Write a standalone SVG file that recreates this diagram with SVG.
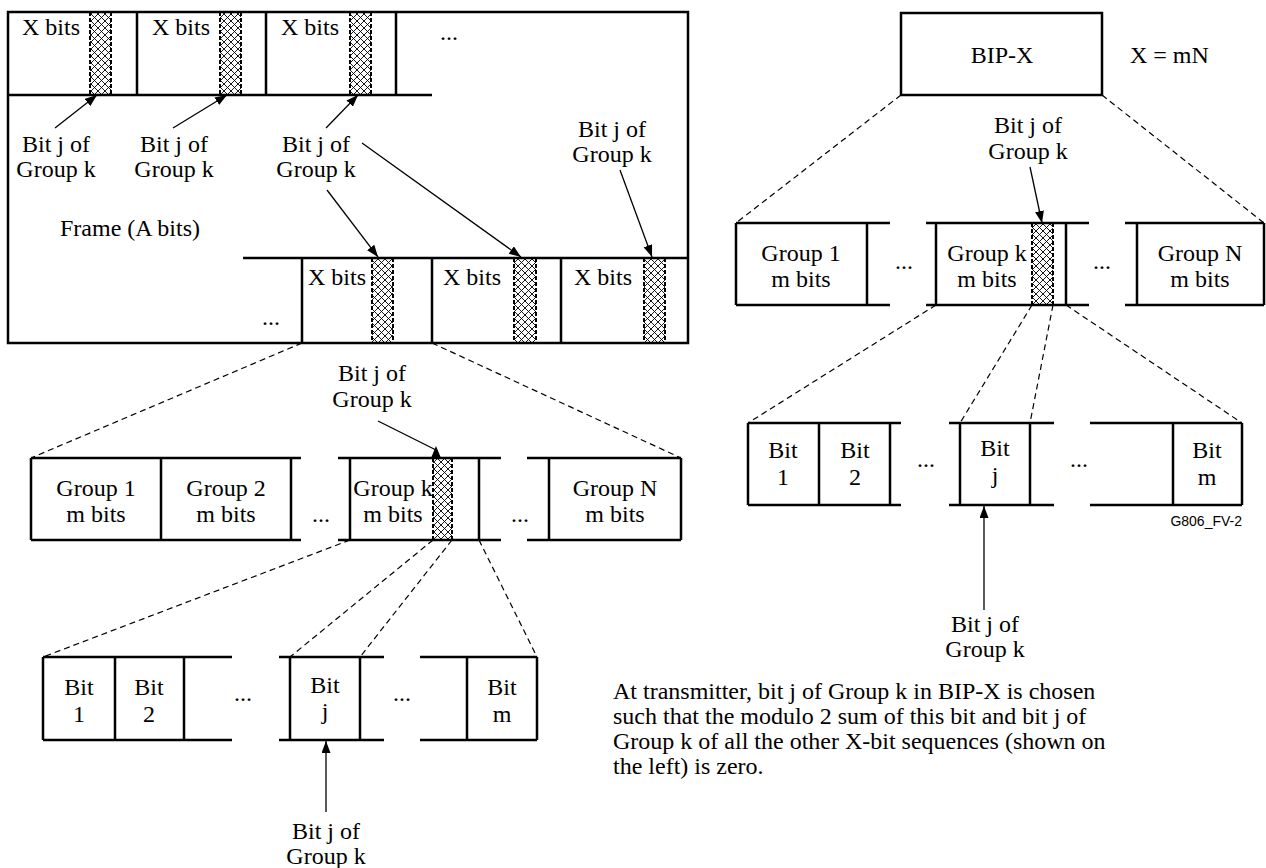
<svg xmlns="http://www.w3.org/2000/svg" width="1266" height="868" viewBox="0 0 1266 868">
<style>
.t{font-family:"Liberation Serif","Times New Roman",serif;font-size:24px;fill:#000}
.m{text-anchor:middle}
.s{font-family:"Liberation Sans",Arial,sans-serif;font-size:14px;fill:#000;text-anchor:end}
.ln{fill:none;stroke:#000;stroke-width:2.5}
.dash{fill:none;stroke:#000;stroke-width:1.2;stroke-dasharray:6 4}
.arr{fill:none;stroke:#000;stroke-width:1.3;marker-end:url(#ah)}
.thin{fill:none;stroke:#000;stroke-width:1.3}
.hx{fill:url(#xh)}
.hb{fill:none;stroke:#000;stroke-width:2;stroke-dasharray:4 2}
</style>
<defs>
<pattern id="xh" width="7" height="7" patternUnits="userSpaceOnUse">
<path d="M0,0 L7,7 M7,0 L0,7" stroke="#000" stroke-width="0.9" fill="none"/>
</pattern>
<marker id="ah" markerUnits="userSpaceOnUse" markerWidth="13" markerHeight="10" refX="12" refY="4.5" orient="auto">
<path d="M0,0 L12,4.5 L0,9 z" fill="#000"/>
</marker>
</defs>
<rect width="1266" height="868" fill="#fff"/>

<g id="frame">
<rect x="8" y="12" width="680" height="331" class="ln"/>
<text x="60" y="236" class="t">Frame (A bits)</text>
</g>

<g id="frame-top-row">
<path class="ln" d="M8,95 H432 M137,12 V95 M266,12 V95 M396,12 V95"/>
<rect x="90" y="12" width="21" height="83" class="hx"/><path class="hb" d="M90,12 V95 M111,12 V95"/>
<rect x="220" y="12" width="21" height="83" class="hx"/><path class="hb" d="M220,12 V95 M241,12 V95"/>
<rect x="350" y="12" width="21" height="83" class="hx"/><path class="hb" d="M350,12 V95 M371,12 V95"/>
<text x="22" y="35" class="t">X bits</text>
<text x="152" y="35" class="t">X bits</text>
<text x="281" y="35" class="t">X bits</text>
<text x="440" y="40" class="t">...</text>
</g>

<g id="frame-bottom-row">
<path class="ln" d="M243,258 H688 M302,258 V343 M432,258 V343 M561,258 V343"/>
<rect x="372" y="258" width="21" height="85" class="hx"/><path class="hb" d="M372,258 V343 M393,258 V343"/>
<rect x="514" y="258" width="22" height="85" class="hx"/><path class="hb" d="M514,258 V343 M536,258 V343"/>
<rect x="644" y="258" width="21" height="85" class="hx"/><path class="hb" d="M644,258 V343 M665,258 V343"/>
<text x="308" y="285" class="t">X bits</text>
<text x="443" y="285" class="t">X bits</text>
<text x="574" y="285" class="t">X bits</text>
<text x="262" y="325" class="t">...</text>
</g>

<g id="label-1"><text x="56" y="152" class="t m">Bit j of</text><text x="56" y="177" class="t m">Group k</text></g>
<g id="label-2"><text x="174" y="152" class="t m">Bit j of</text><text x="174" y="177" class="t m">Group k</text></g>
<g id="label-3"><text x="316" y="152" class="t m">Bit j of</text><text x="316" y="177" class="t m">Group k</text></g>
<g id="label-4"><text x="612" y="137" class="t m">Bit j of</text><text x="612" y="162" class="t m">Group k</text></g>

<g id="left-group-label"><text x="372" y="381" class="t m">Bit j of</text><text x="372" y="407" class="t m">Group k</text></g>

<g id="left-group-row">
<path class="ln" d="M31,458 V540 M31,458 H301 M31,540 H301 M161,458 V540 M291,458 V540 M338,458 H501 M338,540 H501 M350,458 V540 M479,458 V540 M527,458 H681 M527,540 H681 M549,458 V540 M681,458 V540"/>
<rect x="433" y="458" width="19" height="82" class="hx"/><path class="hb" d="M433,458 V540 M452,458 V540"/>
<text x="96" y="496" class="t m">Group 1</text><text x="96" y="522" class="t m">m bits</text>
<text x="226" y="496" class="t m">Group 2</text><text x="226" y="522" class="t m">m bits</text>
<text x="393" y="496" class="t m">Group k</text><text x="393" y="522" class="t m">m bits</text>
<text x="615" y="496" class="t m">Group N</text><text x="615" y="522" class="t m">m bits</text>
<text x="312" y="522" class="t">...</text>
<text x="511" y="522" class="t">...</text>
</g>

<g id="left-bit-row">
<path class="ln" d="M43,657 V740 M43,657 H232 M43,740 H232 M115,657 V740 M184,657 V740 M279,657 H384 M279,740 H384 M290,657 V740 M360,657 V740 M420,657 H537 M420,740 H537 M467,657 V740 M537,657 V740"/>
<text x="79" y="695" class="t m">Bit</text><text x="79" y="722" class="t m">1</text>
<text x="149" y="695" class="t m">Bit</text><text x="149" y="722" class="t m">2</text>
<text x="325" y="693" class="t m">Bit</text><text x="325" y="719" class="t m">j</text>
<text x="502" y="695" class="t m">Bit</text><text x="502" y="722" class="t m">m</text>
<text x="234" y="701" class="t">...</text>
<text x="393" y="701" class="t">...</text>
</g>

<g id="left-bottom-label"><text x="326" y="839" class="t m">Bit j of</text><text x="326" y="864" class="t m">Group k</text></g>

<g id="bip-x">
<rect x="901" y="13" width="201" height="82" class="ln"/>
<text x="1002" y="63" class="t m">BIP-X</text>
</g>
<g id="x-eq"><text x="1130" y="63" class="t">X = mN</text></g>

<g id="right-group-label"><text x="1028" y="133" class="t m">Bit j of</text><text x="1028" y="159" class="t m">Group k</text></g>

<g id="right-group-row">
<path class="ln" d="M736,223 V305 M736,223 H890 M736,305 H890 M867,223 V305 M926,223 H1089 M926,305 H1089 M936,223 V305 M1066,223 V305 M1125,223 H1264 M1125,305 H1264 M1137,223 V305 M1264,223 V305"/>
<rect x="1032" y="223" width="21" height="82" class="hx"/><path class="hb" d="M1032,223 V305 M1053,223 V305"/>
<text x="801" y="261" class="t m">Group 1</text><text x="801" y="287" class="t m">m bits</text>
<text x="987" y="261" class="t m">Group k</text><text x="987" y="287" class="t m">m bits</text>
<text x="1200" y="261" class="t m">Group N</text><text x="1200" y="287" class="t m">m bits</text>
<text x="895" y="269" class="t">...</text>
<text x="1093" y="269" class="t">...</text>
</g>

<g id="right-bit-row">
<path class="ln" d="M748,423 V505 M748,423 H901 M748,505 H901 M819,423 V505 M890,423 V505 M949,423 H1054 M949,505 H1054 M960,423 V505 M1030,423 V505 M1090,423 H1242 M1090,505 H1242 M1173,423 V505 M1242,423 V505"/>
<text x="783" y="458" class="t m">Bit</text><text x="783" y="485" class="t m">1</text>
<text x="855" y="458" class="t m">Bit</text><text x="855" y="485" class="t m">2</text>
<text x="995" y="456" class="t m">Bit</text><text x="995" y="483" class="t m">j</text>
<text x="1207" y="458" class="t m">Bit</text><text x="1207" y="485" class="t m">m</text>
<text x="917" y="467" class="t">...</text>
<text x="1070" y="467" class="t">...</text>
</g>

<g id="fig-id"><text x="1242" y="526" class="s">G806_FV-2</text></g>

<g id="right-bottom-label"><text x="985" y="632" class="t m">Bit j of</text><text x="985" y="657" class="t m">Group k</text></g>

<g id="note">
<text x="613" y="699" class="t">At transmitter, bit j of Group k in BIP-X is chosen</text>
<text x="613" y="724" class="t">such that the modulo 2 sum of this bit and bit j of</text>
<text x="613" y="749" class="t">Group k of all the other X-bit sequences (shown on</text>
<text x="613" y="774" class="t">the left) is zero.</text>
</g>

<g id="connectors">
<path class="arr" d="M55,128 L97,95"/>
<path class="arr" d="M173,128 L227,95"/>
<path class="arr" d="M326,128 L358,95"/>
<path class="arr" d="M362,143 L521,257"/>
<path class="arr" d="M327,190 L378,257"/>
<path class="arr" d="M620,170 L652,257"/>
<path class="thin" d="M378,421 L436,450"/>
<path d="M436,446 L441,458 L431,458 z" fill="#000"/>
<path class="arr" d="M326,812 L326,741"/>
<path class="arr" d="M1030,167 L1042,223"/>
<path class="arr" d="M984,610 L984,506"/>
<path class="dash" d="M302,343 L31,458 M432,343 L681,458"/>
<path class="dash" d="M350,540 L43,657 M433,540 L290,657 M452,540 L360,657 M479,540 L537,657"/>
<path class="dash" d="M901,95 L736,223 M1102,95 L1264,223"/>
<path class="dash" d="M936,305 L748,423 M1032,305 L960,423 M1053,305 L1030,423 M1066,305 L1242,423"/>
</g>
</svg>
